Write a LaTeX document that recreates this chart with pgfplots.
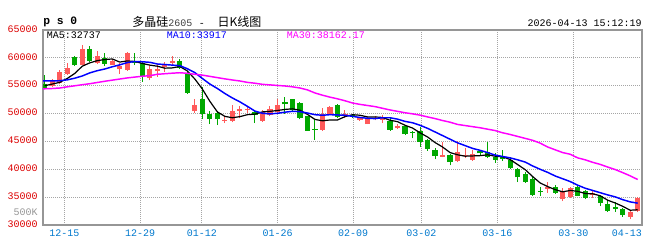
\documentclass[border=0pt]{standalone}
\usepackage{fontspec}
\usepackage{pgfplots}
\usepackage{pgfplotstable}
\pgfplotsset{compat=1.18}
\setmainfont{Liberation Sans}
\newfontfamily\mono{Liberation Mono}
\newfontfamily\cjk{Noto Sans CJK SC}
\definecolor{cred}{RGB}{255,90,90}
\definecolor{cgreen}{RGB}{0,168,0}
\definecolor{yred}{RGB}{220,0,0}
\definecolor{xblue}{RGB}{0,120,205}
\definecolor{gridgray}{RGB}{165,165,165}
\definecolor{axisgray}{RGB}{150,150,150}
\definecolor{ma10}{RGB}{0,0,255}
\definecolor{ma30}{RGB}{255,0,255}

% red (up) candles: k low high bodybottom bodytop
\pgfplotstableread{
k L H B T
2 54700 56150 54900 55850
3 55250 57800 55550 57500
4 56940 59120 57060 58100
6 58650 62230 58700 61650
8 58880 61290 59050 60410
10 58700 59880 58770 59350
11 57180 59120 58060 58530
12 57650 61000 57820 60880
15 55940 58700 56470 58000
16 56650 58880 57590 58000
17 57530 59290 58410 58700
18 58700 60290 59120 59410
21 50180 52530 50410 51470
25 48300 49590 48700 48880
26 48410 51470 48700 50470
27 49120 51350 50470 50770
28 50060 51350 50650 50880
30 48530 50590 48710 50290
31 49530 51290 49710 50760
32 50120 52650 50290 51470
38 46940 51000 47060 49880
39 49760 51290 49880 51180
41 49120 50700 49760 50000
43 48640 49410 48820 49230
44 48110 49470 48110 49290
45 48760 49590 49110 49290
46 48280 49700 48880 49470
48 47220 48050 47450 47810
54 42130 44970 42250 42480
56 41280 45050 41570 43050
57 41960 43750 42440 42620
58 41550 43510 41730 42740
68 35780 37680 36490 36910
70 34290 36590 34590 35880
71 34880 36760 35000 36590
74 34880 36350 35470 35710
79 31060 32650 31470 32350
80 32350 35000 32470 34880
}\redtab

% green (down) candles: k low high bodybottom bodytop
\pgfplotstableread{
k L H B T
1 54350 56850 54550 55350
5 58530 60290 58650 60150
7 59240 62060 59400 61650
9 58530 60880 58940 60000
13 58700 60880 59120 59410
14 55700 59240 56770 59120
19 58060 59880 58230 59410
20 53590 57700 53710 57120
22 49000 54760 49880 52530
23 48120 50470 49000 49880
24 47940 50470 49000 50060
29 48300 50700 49800 50350
33 50000 52940 51650 52060
34 50470 52650 50590 52530
35 48940 52060 49240 51880
36 46880 49650 46940 49530
37 45300 48820 47060 47240
40 49120 51760 49410 51470
42 49290 50000 49410 49820
47 46920 49470 47100 48700
49 46150 47930 46330 47690
50 45560 46920 46630 46740
51 44080 47510 44970 46920
52 43370 45440 43670 45260
53 41770 43780 42370 43550
55 40710 42780 41300 42600
59 42560 43330 42860 43210
60 41960 44940 42140 43040
61 41130 42920 41730 42260
62 41550 43450 41910 42140
63 40060 42140 40180 41670
64 37680 40180 38570 40060
65 37560 39470 37800 39170
66 35180 38870 35420 38280
67 35180 36910 36010 36190
69 35600 37090 35750 36850
72 35180 37060 35290 36880
73 34590 36350 34820 36180
75 33410 35290 33940 35120
76 32350 34530 32470 33820
77 32350 34120 32940 33180
78 31470 33060 31770 32940
}\greentab

\begin{document}
\begin{tikzpicture}
\useasboundingbox (0,0) rectangle (493.5pt,180pt);
\begin{axis}[
  at={(32.25pt,11.25pt)}, anchor=south west,
  scale only axis, width=449.25pt, height=146.25pt,
  xmin=0.77, xmax=80.57, ymin=30000, ymax=65000,
  axis line style={draw=axisgray, line width=0.9pt},
  scaled y ticks=false, scaled x ticks=false,
  xtick={3.61,13.70,21.92,32.04,42.07,51.17,61.30,71.42},
  xticklabels={12-15,12-29,01-12,01-26,02-09,03-02,03-16,03-30},
  extra x ticks={78.54}, extra x tick labels={04-13},
  extra x tick style={grid=none},
  ytick={30000,35000,40000,45000,50000,55000,60000,65000},
  yticklabels={30000,35000,40000,45000,50000,55000,60000,65000},
  major tick length=0pt,
  xmajorgrids, ymajorgrids,
  grid style={draw=gridgray, line width=0.75pt, dash pattern=on 0.75pt off 0.75pt},
  xticklabel style={font=\mono\fontsize{7.5}{8}\selectfont, text=xblue, anchor=center, inner sep=0pt, yshift=-6.2pt},
  yticklabel style={font=\mono\fontsize{7.5}{8}\selectfont, text=yred, anchor=east, inner sep=0pt, xshift=-3.75pt, yshift=0.8pt},
  candle/.style 2 args={draw=none, mark=none, forget plot,
    error bars/.cd, y dir=plus, y explicit, error mark=none,
    error bar style={draw=#1, solid, line width=#2}},
]
% wicks and bodies
\addplot[candle={cred}{0.75pt}]
  table[x=k, y=L, y error plus expr=\thisrow{H}-\thisrow{L}] {\redtab};
\addplot[candle={cred}{3.9pt}]
  table[x=k, y=B, y error plus expr=\thisrow{T}-\thisrow{B}] {\redtab};
\addplot[candle={cgreen}{0.75pt}]
  table[x=k, y=L, y error plus expr=\thisrow{H}-\thisrow{L}] {\greentab};
\addplot[candle={cgreen}{3.9pt}]
  table[x=k, y=B, y error plus expr=\thisrow{T}-\thisrow{B}] {\greentab};
% MA5
\addplot[black, line width=0.9pt, mark=none] coordinates {
(1,55000)(2,55300)(3,55600)(4,56300)(5,57200)(6,58500)(7,59100)(8,59500)(9,59700)(10,59800)
(11,59250)(12,59450)(13,59350)(14,59000)(15,58700)(16,58500)(17,58150)(18,58200)(19,58450)(20,57650)
(21,56200)(22,54400)(23,52200)(24,50300)(25,49500)(26,49250)(27,49450)(28,49800)(29,49900)(30,50300)
(31,50400)(32,50550)(33,50750)(34,50850)(35,50600)(36,49850)(37,48950)(38,48700)(39,48850)(40,48850)
(41,49450)(42,49800)(43,49700)(44,49400)(45,49400)(46,49300)(47,48800)(48,48550)(49,47900)(50,47400)
(51,46550)(52,45800)(53,44800)(54,44000)(55,43000)(56,42600)(57,42350)(58,42400)(59,42450)(60,42600)
(61,42350)(62,42250)(63,41750)(64,40850)(65,39950)(66,38700)(67,37550)(68,36900)(69,36350)(70,35950)
(71,36200)(72,36050)(73,35650)(74,35600)(75,35250)(76,34450)(77,33950)(78,33350)(79,32650)(80,32737)};
% MA10
\addplot[ma10, line width=1.1pt, mark=none] coordinates {
(0.77,55850)(1,55850)(2,55850)(3,55900)(4,56050)(5,56350)(6,56750)(7,57300)(8,57700)(9,58000)(10,58400)
(11,58750)(12,59150)(13,59350)(14,59300)(15,59200)(16,58900)(17,58800)(18,58700)(19,58600)(20,58050)
(21,57350)(22,56300)(23,55300)(24,54500)(25,53600)(26,52800)(27,52100)(28,51300)(29,50450)(30,50050)
(31,49950)(32,50050)(33,50250)(34,50400)(35,50350)(36,50100)(37,49800)(38,49700)(39,49800)(40,49750)
(41,49700)(42,49500)(43,49300)(44,49150)(45,49100)(46,49250)(47,49250)(48,49000)(49,48600)(50,48350)
(51,47900)(52,47350)(53,46700)(54,46050)(55,45400)(56,44750)(57,44250)(58,43750)(59,43400)(60,43000)
(61,42550)(62,42300)(63,42050)(64,41700)(65,41300)(66,40600)(67,40000)(68,39450)(69,38800)(70,38300)
(71,37800)(72,37150)(73,36600)(74,36200)(75,35800)(76,35400)(77,35050)(78,34550)(79,34150)(80,33917)};
% MA30
\addplot[ma30, line width=1.1pt, mark=none] coordinates {
(0.77,54450)(1,54450)(2,54500)(3,54590)(4,54800)(5,54990)(6,55180)(7,55360)(8,55580)(9,55800)(10,56000)
(11,56200)(12,56400)(13,56550)(14,56700)(15,56800)(16,57050)(17,57150)(18,57250)(19,57330)(20,57230)
(21,57050)(22,56900)(23,56680)(24,56450)(25,56230)(26,56030)(27,55850)(28,55600)(29,55450)(30,55250)
(31,55150)(32,55050)(33,54950)(34,54800)(35,54590)(36,54250)(37,53700)(38,53300)(39,52950)(40,52650)
(41,52300)(42,51900)(43,51650)(44,51450)(45,51250)(46,50950)(47,50650)(48,50400)(49,50150)(50,49950)
(51,49720)(52,49400)(53,49100)(54,48750)(55,48450)(56,48050)(57,47850)(58,47650)(59,47450)(60,47200)
(61,46950)(62,46550)(63,46250)(64,45900)(65,45550)(66,45200)(67,44700)(68,44000)(69,43500)(70,43000)
(71,42700)(72,42050)(73,41700)(74,41250)(75,40880)(76,40400)(77,39950)(78,39400)(79,38820)(80,38162)};
\end{axis}
% titles and labels
\node[anchor=west, inner sep=0pt] at (32.25pt,163.5pt) {\mono\bfseries\fontsize{8.5}{9}\selectfont p s 0};
\node[anchor=west, inner sep=0pt] at (99pt,163.5pt) {{\cjk\fontsize{9}{10}\selectfont 多晶硅}{\mono\fontsize{7.5}{8}\selectfont\color{darkgray}2605}\hspace{5pt}{\mono\fontsize{7.5}{8}\selectfont -}\hspace{9.5pt}{\cjk\fontsize{9}{10}\selectfont 日K线图}};
\node[anchor=east, inner sep=0pt] at (481.5pt,162.75pt) {\mono\fontsize{7.5}{8}\selectfont 2026-04-13 15:12:19};
\node[anchor=west, inner sep=0pt] at (34.9pt,153.75pt) {\mono\fontsize{7.5}{8}\selectfont MA5:32737};
\node[anchor=west, inner sep=0pt, text=ma10] at (125pt,153.75pt) {\mono\fontsize{7.5}{8}\selectfont MA10:33917};
\node[anchor=west, inner sep=0pt, text=ma30] at (215pt,153.75pt) {\mono\fontsize{7.5}{8}\selectfont MA30:38162.17};
\node[anchor=east, inner sep=0pt, text=axisgray] at (28.5pt,21pt) {\mono\fontsize{7.5}{8}\selectfont 500K};
\end{tikzpicture}
\end{document}
